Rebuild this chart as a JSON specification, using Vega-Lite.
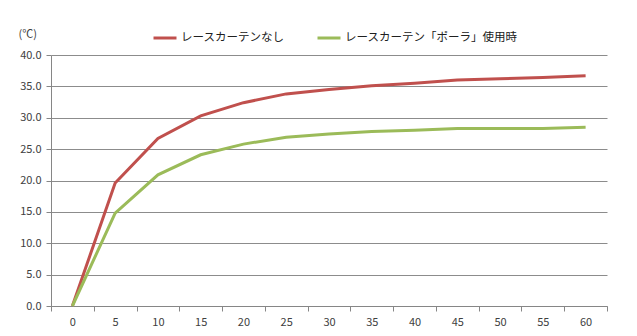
{
  "$schema": "https://vega.github.io/schema/vega-lite/v6.json",
  "width": 556,
  "height": 251,
  "autosize": {"type": "none"},
  "padding": {"left": 51, "top": 55, "right": 30, "bottom": 30},
  "background": "white",
  "config": {
    "view": {"stroke": null},
    "font": "Noto Sans CJK JP",
    "axis": {"labelFont": "Noto Sans CJK JP", "titleFont": "Noto Sans CJK JP", "labelColor": "#404040", "titleColor": "#404040", "labelFontSize": 11, "domainColor": "#868686", "tickColor": "#868686", "gridColor": "#8c8c8c"},
    "legend": {"labelFont": "Noto Sans CJK JP", "labelColor": "#202020", "labelFontSize": 11.5, "labelLimit": 0}
  },
  "data": {
    "values": [
      {"t": 0, "s": "レースカーテンなし", "v": 0},
      {"t": 5, "s": "レースカーテンなし", "v": 19.6},
      {"t": 10, "s": "レースカーテンなし", "v": 26.7},
      {"t": 15, "s": "レースカーテンなし", "v": 30.3},
      {"t": 20, "s": "レースカーテンなし", "v": 32.4},
      {"t": 25, "s": "レースカーテンなし", "v": 33.8},
      {"t": 30, "s": "レースカーテンなし", "v": 34.5},
      {"t": 35, "s": "レースカーテンなし", "v": 35.1},
      {"t": 40, "s": "レースカーテンなし", "v": 35.5},
      {"t": 45, "s": "レースカーテンなし", "v": 36.0},
      {"t": 50, "s": "レースカーテンなし", "v": 36.2},
      {"t": 55, "s": "レースカーテンなし", "v": 36.4},
      {"t": 60, "s": "レースカーテンなし", "v": 36.7},
      {"t": 0, "s": "レースカーテン「ポーラ」使用時", "v": 0},
      {"t": 5, "s": "レースカーテン「ポーラ」使用時", "v": 14.8},
      {"t": 10, "s": "レースカーテン「ポーラ」使用時", "v": 20.9},
      {"t": 15, "s": "レースカーテン「ポーラ」使用時", "v": 24.1},
      {"t": 20, "s": "レースカーテン「ポーラ」使用時", "v": 25.8},
      {"t": 25, "s": "レースカーテン「ポーラ」使用時", "v": 26.9},
      {"t": 30, "s": "レースカーテン「ポーラ」使用時", "v": 27.4},
      {"t": 35, "s": "レースカーテン「ポーラ」使用時", "v": 27.8},
      {"t": 40, "s": "レースカーテン「ポーラ」使用時", "v": 28.0},
      {"t": 45, "s": "レースカーテン「ポーラ」使用時", "v": 28.3},
      {"t": 50, "s": "レースカーテン「ポーラ」使用時", "v": 28.3},
      {"t": 55, "s": "レースカーテン「ポーラ」使用時", "v": 28.3},
      {"t": 60, "s": "レースカーテン「ポーラ」使用時", "v": 28.5}
    ]
  },
  "mark": {"type": "line", "strokeWidth": 3},
  "encoding": {
    "x": {
      "field": "t", "type": "ordinal",
      "scale": {"paddingInner": 0, "paddingOuter": 0},
      "axis": {"title": null, "labelAngle": 0, "tickBand": "extent", "tickSize": 5, "labelPadding": 5, "grid": false, "labelFontSize": 11}
    },
    "y": {
      "field": "v", "type": "quantitative",
      "scale": {"domain": [0, 40], "nice": false},
      "axis": {"values": [0, 5, 10, 15, 20, 25, 30, 35, 40], "format": ".1f", "tickSize": 5, "labelPadding": 5, "grid": true, "title": "(℃)", "titleAngle": 0, "titleX": -33, "titleY": -21, "titleAlign": "left", "titleBaseline": "middle", "titleFontWeight": "normal", "titleFontSize": 11}
    },
    "color": {
      "field": "s", "type": "nominal",
      "scale": {"domain": ["レースカーテンなし", "レースカーテン「ポーラ」使用時"], "range": ["#c0504d", "#9bbb59"]},
      "legend": {"title": null, "orient": "none", "direction": "horizontal", "legendX": 101, "legendY": -30, "symbolType": "stroke", "symbolSize": 529, "symbolStrokeWidth": 3, "labelOffset": 3, "columnPadding": 26}
    }
  }
}
